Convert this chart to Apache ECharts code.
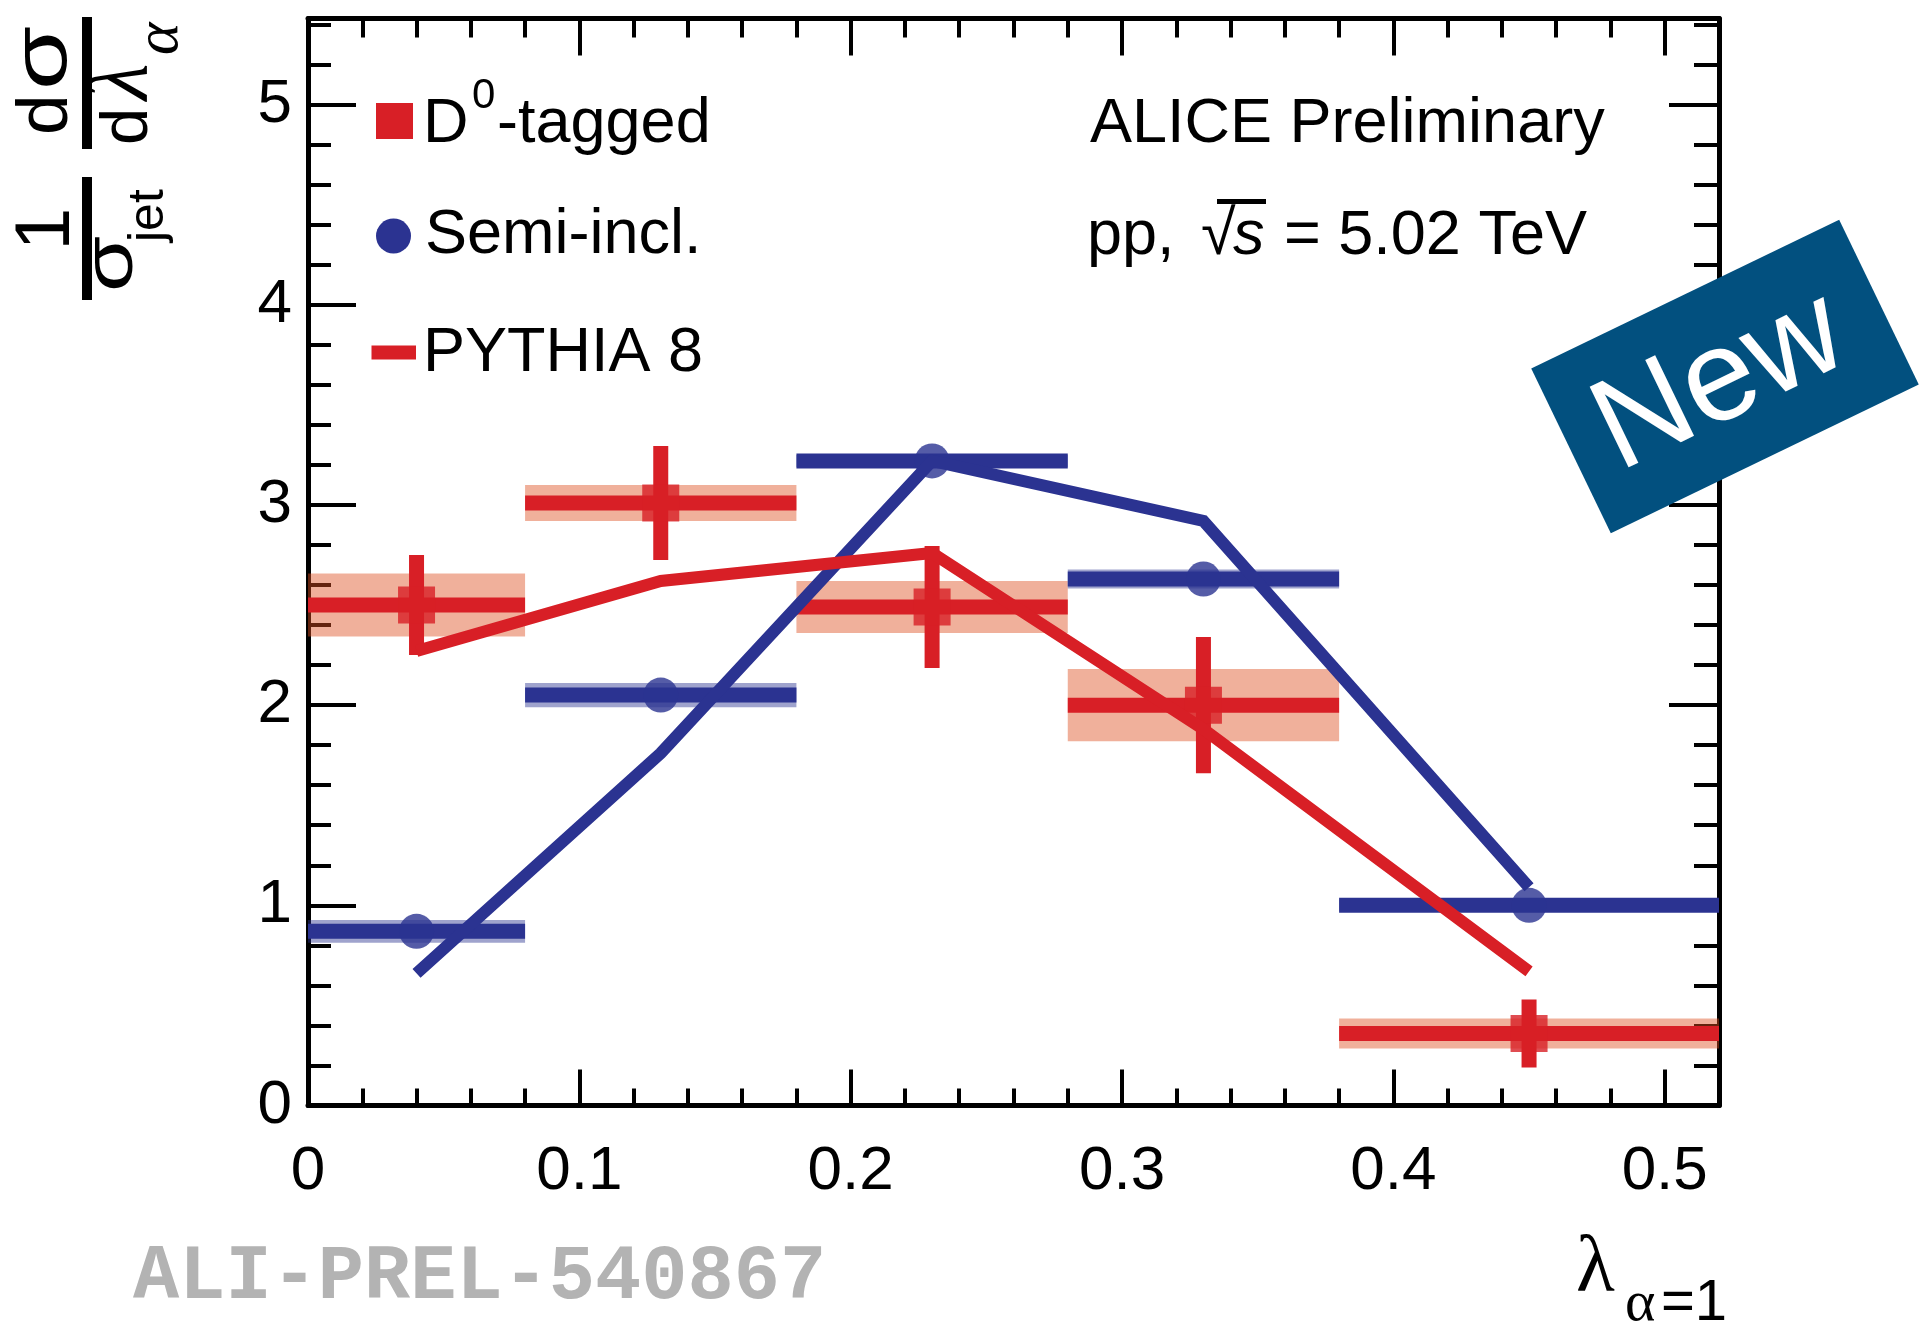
<!DOCTYPE html>
<html>
<head>
<meta charset="utf-8">
<script src="https://cdn.jsdelivr.net/npm/echarts@6/dist/echarts.min.js"></script>
<style>html,body{margin:0;padding:0;background:#fff}#chart{width:1920px;height:1330px}</style>
</head>
<body>
<div id="chart"></div>
<script>
// bins in lambda (alpha=1)
var binLo = [0, 0.08, 0.18, 0.28, 0.38];
var binHi = [0.08, 0.18, 0.28, 0.38, 0.52];
var binMid = [0.04, 0.13, 0.23, 0.33, 0.45];
// D0-tagged: value, stat error, sys error
var d0Val = [2.50, 3.01, 2.49, 2.00, 0.36];
var d0Stat = [0.25, 0.285, 0.305, 0.34, 0.17];
var d0Sys = [0.157, 0.09, 0.13, 0.18, 0.075];
// semi-inclusive jets
var semiVal = [0.87, 2.05, 3.22, 2.63, 1.00];
var semiSys = [0.057, 0.06, 0.03, 0.047, 0.03];
// PYTHIA 8 curves
var pythiaD0 = [2.27, 2.62, 2.76, 1.88, 0.67];
var pythiaSemi = [0.66, 1.76, 3.22, 2.92, 1.09];

var RED = '#D81F26', BLUE = '#2B3391';

var chart = echarts.init(document.getElementById('chart'), null, {renderer: 'canvas'});

function items(vals, errs, syss) {
    return binLo.map(function (lo, i) {
        return [lo, binHi[i], binMid[i], vals[i], errs ? errs[i] : 0, syss[i]];
    });
}
function pts(vals) {
    return binMid.map(function (x, i) { return [x, vals[i]]; });
}

// systematic box
function sysBox(fill) {
    return function (params, api) {
        var a = api.coord([api.value(0), api.value(3) + api.value(5)]);
        var b = api.coord([api.value(1), api.value(3) - api.value(5)]);
        return {type: 'rect', shape: {x: a[0], y: a[1], width: b[0] - a[0], height: b[1] - a[1]}, style: {fill: fill}};
    };
}
// bin width bar + stat error
function dataBars(color) {
    return function (params, api) {
        var v = api.value(3), e = api.value(4), c = api.value(2);
        var l = api.coord([api.value(0), v]), r = api.coord([api.value(1), v]);
        var kids = [{type: 'line', shape: {x1: l[0], y1: l[1], x2: r[0], y2: r[1]}, style: {stroke: color, lineWidth: 15}}];
        if (e > 0) {
            var t = api.coord([c, v + e]), b = api.coord([c, v - e]);
            kids.push({type: 'line', shape: {x1: t[0], y1: t[1], x2: b[0], y2: b[1]}, style: {stroke: color, lineWidth: 15}});
        }
        return {type: 'group', children: kids};
    };
}

// text helper, y given as baseline
function T(str, x, base, fs, o) {
    o = o || {};
    var fam = o.family || 'Liberation Sans';
    var k = fam === 'Liberation Mono' ? 0.27 : (fam === 'Liberation Serif' ? 0.34 : 0.35);
    var el = {
        type: 'text', x: x, y: base - k * fs, z: 100,
        style: {
            text: str, fontSize: fs, fontFamily: fam,
            fontStyle: o.italic ? 'italic' : 'normal',
            fontWeight: o.bold ? 'bold' : 'normal',
            fill: o.color || '#000', align: o.align || 'left', verticalAlign: 'middle'
        }
    };
    if (o.sx) el.scaleX = o.sx;
    return el;
}
function R(x, y, w, h, fill) {
    return {type: 'rect', shape: {x: x, y: y, width: w, height: h}, style: {fill: fill || '#000'}, z: 100};
}

function xAxisCfg(pos, tickLen, minorLen, showLabel) {
    return {
        type: 'value', position: pos, min: 0, max: 0.52, interval: 0.1,
        axisLine: {show: true, onZero: false, lineStyle: {color: '#000', width: 5}},
        axisTick: {show: true, inside: true, length: tickLen, lineStyle: {color: '#000', width: 4}},
        minorTick: {show: true, splitNumber: 5, length: minorLen, lineStyle: {color: '#000', width: 4}},
        axisLabel: {show: showLabel, showMaxLabel: false, color: '#000', fontSize: 62, fontFamily: 'Liberation Sans', margin: 35},
        splitLine: {show: false}
    };
}
function yAxisCfg(pos, tickLen, minorLen, showLabel) {
    return {
        type: 'value', position: pos, min: 0, max: 5.43, interval: 1,
        axisLine: {show: true, onZero: false, lineStyle: {color: '#000', width: 5}},
        axisTick: {show: true, inside: true, length: tickLen, lineStyle: {color: '#000', width: 4}},
        minorTick: {show: true, splitNumber: 5, length: minorLen, lineStyle: {color: '#000', width: 4}},
        axisLabel: {show: showLabel, showMaxLabel: false, color: '#000', fontSize: 62, fontFamily: 'Liberation Sans', margin: 16},
        splitLine: {show: false}
    };
}

var option = {
    animation: false,
    backgroundColor: '#fff',
    grid: {left: 308, top: 18.5, width: 1411, height: 1087, containLabel: false, outerBoundsMode: 'none'},
    xAxis: [xAxisCfg('bottom', 36, 17, true), xAxisCfg('top', 37, 19, false)],
    yAxis: [yAxisCfg('left', 48, 23, true), yAxisCfg('right', 50, 25, false)],
    series: [
        {type: 'line', data: pts(pythiaSemi), showSymbol: false, symbol: 'none', lineStyle: {color: BLUE, width: 12, cap: 'butt', join: 'miter'}},
        {type: 'line', data: pts(pythiaD0), showSymbol: false, symbol: 'none', lineStyle: {color: RED, width: 12, cap: 'butt', join: 'miter'}},
        {type: 'custom', data: items(d0Val, d0Stat, d0Sys), encode: {x: [0, 1, 2], y: [3]}, renderItem: sysBox('rgba(222,80,34,0.45)')},
        {type: 'custom', data: items(semiVal, null, semiSys), encode: {x: [0, 1, 2], y: [3]}, renderItem: sysBox('rgba(43,51,145,0.45)')},
        {type: 'custom', data: items(d0Val, d0Stat, d0Sys), encode: {x: [0, 1, 2], y: [3]}, renderItem: dataBars(RED)},
        {type: 'custom', data: items(semiVal, null, semiSys), encode: {x: [0, 1, 2], y: [3]}, renderItem: dataBars(BLUE)},
        {type: 'scatter', data: pts(d0Val), symbol: 'rect', symbolSize: 37, itemStyle: {color: RED}},
        {type: 'scatter', data: pts(semiVal), symbol: 'circle', symbolSize: 35, itemStyle: {color: BLUE}}
    ],
    graphic: [
        // y axis title, rotated
        {
            type: 'group', x: 0, y: 300, rotation: Math.PI / 2,
            children: [
                R(0, 82, 123, 10),
                R(151, 82, 132, 10),
                T('1', 71, 75, 77, {align: 'center'}),
                T('\u03c3', 8, 137, 71, {sx: 1.28}),
                T('jet', 58, 167, 50),
                T('d', 165, 72, 73),
                T('\u03c3', 210, 72, 77, {sx: 1.35}),
                T('d', 155, 152, 67),
                T('\u03bb', 200, 152, 84, {family: 'Liberation Serif', italic: true}),
                T('\u03b1', 245, 182, 62, {family: 'Liberation Serif', italic: true})
            ]
        },
        // x axis title
        T('\u03bb', 1576, 1297, 80, {family: 'Liberation Serif'}),
        T('\u03b1', 1625, 1324.5, 58, {family: 'Liberation Serif'}),
        T('=1', 1661, 1324.5, 58),
        // legend
        R(376, 103, 37, 36, RED),
        {type: 'circle', shape: {cx: 393.5, cy: 236, r: 17.5}, style: {fill: BLUE}, z: 100},
        R(371.5, 345.6, 44.5, 14, RED),
        T('D', 423, 146.3, 63),
        T('0', 472, 111, 42),
        T('-tagged', 497, 146.3, 63),
        T('Semi-incl.', 425, 257.8, 63),
        T('PYTHIA 8', 423, 375.3, 63),
        // labels
        T('ALICE Preliminary', 1090, 146.3, 63),
        T('pp,', 1087, 258.7, 63),
        T('\u221a', 1201, 258.7, 63),
        R(1217, 199, 49, 5),
        T('s', 1233, 258.7, 63, {italic: true}),
        T('= 5.02 TeV', 1284, 258.7, 63),
        T('ALI-PREL-540867', 133, 1299, 77, {family: 'Liberation Mono', bold: true, color: '#B3B3B3'}),
        // "New" badge
        {
            type: 'group', x: 1725, y: 376.5, rotation: 0.45, z: 100,
            children: [
                {type: 'rect', shape: {x: -171, y: -91.5, width: 342, height: 183}, style: {fill: '#02507F'}, z: 100},
                {type: 'text', x: -7, y: 4, z: 101, style: {text: 'New', fontSize: 130, fontFamily: 'Liberation Sans', fill: '#fff', align: 'center', verticalAlign: 'middle'}}
            ]
        }
    ]
};

chart.setOption(option);
</script>
</body>
</html>
